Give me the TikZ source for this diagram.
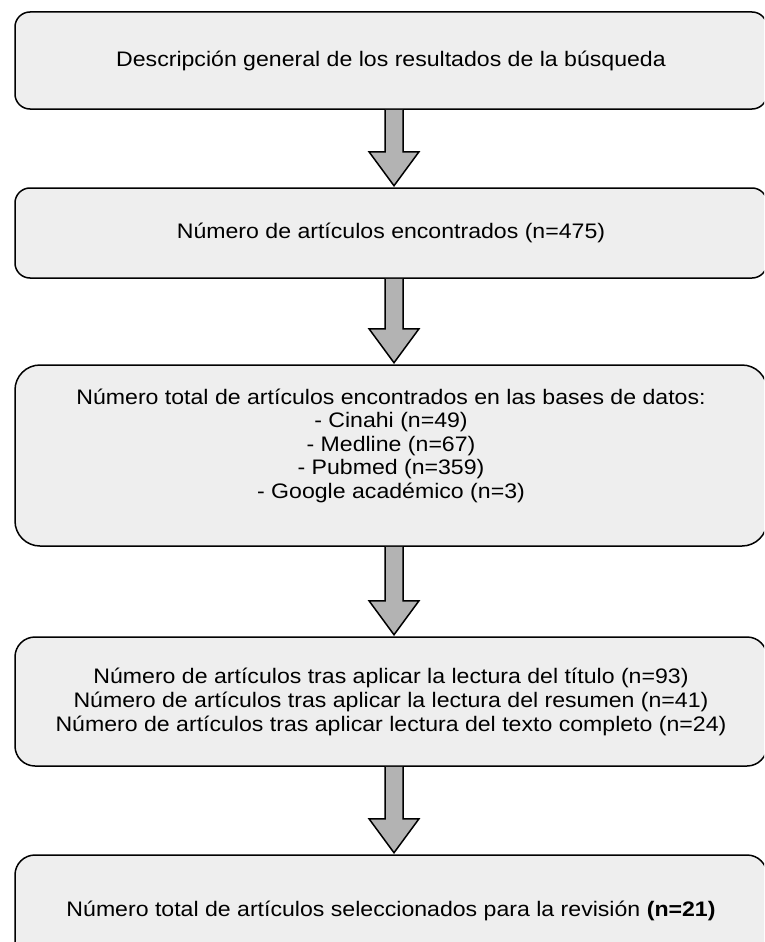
\documentclass[tikz,border=0pt]{standalone}
\usepackage{fontspec}
\setmainfont{Liberation Sans}[FakeStretch=1.1]
\usetikzlibrary{calc}
\definecolor{boxfill}{HTML}{EEEEEE}
\definecolor{arrfill}{HTML}{B3B3B3}
\tikzset{
  box/.style={draw=black, line width=1.5pt, fill=boxfill, align=center,
    minimum width=752pt, inner sep=0pt,
    font=\fontsize{21}{24}\selectfont},
  fatarr/.style={draw=black, line width=1.5pt, fill=arrfill, line join=miter},
  txt/.style={align=center, inner sep=0pt, font=\fontsize{21}{23.5}\selectfont}
}
\newcommand{\fatarrow}[2]{%
  \path ([xshift=3pt]#1.south) coordinate (s) ([xshift=3pt,yshift=1.5pt]#2.north) coordinate (t);
  \draw[fatarr] ($(s)+(-9pt,0)$) -- ($(t)+(-9pt,34pt)$) -- ($(t)+(-25pt,34pt)$) -- (t)
    -- ($(t)+(25pt,34pt)$) -- ($(t)+(9pt,34pt)$) -- ($(s)+(9pt,0)$);
}
\begin{document}
\begin{tikzpicture}[x=1pt,y=1pt]
\useasboundingbox (0,0) rectangle (764,-942);
\clip (0,0) rectangle (764,-942);
\node[box, minimum height=97pt, rounded corners=15pt] (n1) at (391,-60.5)
  {Descripción general de los resultados de la búsqueda};
\node[box, minimum height=90pt, rounded corners=15pt] (n2) at (391,-233)
  {Número de artículos encontrados (n=475)};
\node[box, minimum height=181pt, rounded corners=25pt] (n3) at (391,-455.5) {};
\node[txt] (t3) at ([yshift=10pt]n3.center)
  {Número total de artículos encontrados en las bases de datos:\\
   - Cinahi (n=49)\\
   - Medline (n=67)\\
   - Pubmed (n=359)\\
   - Google académico (n=3)};
\node[box, minimum height=129pt, rounded corners=20pt] (n4) at (391,-701.5)
  {Número de artículos tras aplicar la lectura del título (n=93)\\
   Número de artículos tras aplicar la lectura del resumen (n=41)\\
   Número de artículos tras aplicar lectura del texto completo (n=24)};
\node[box, minimum height=112pt, rounded corners=20pt] (n5) at (391,-911)
  {Número total de artículos seleccionados para la revisión \textbf{(n=21)}};
\fatarrow{n1}{n2}
\fatarrow{n2}{n3}
\fatarrow{n3}{n4}
\fatarrow{n4}{n5}
\end{tikzpicture}
\end{document}
